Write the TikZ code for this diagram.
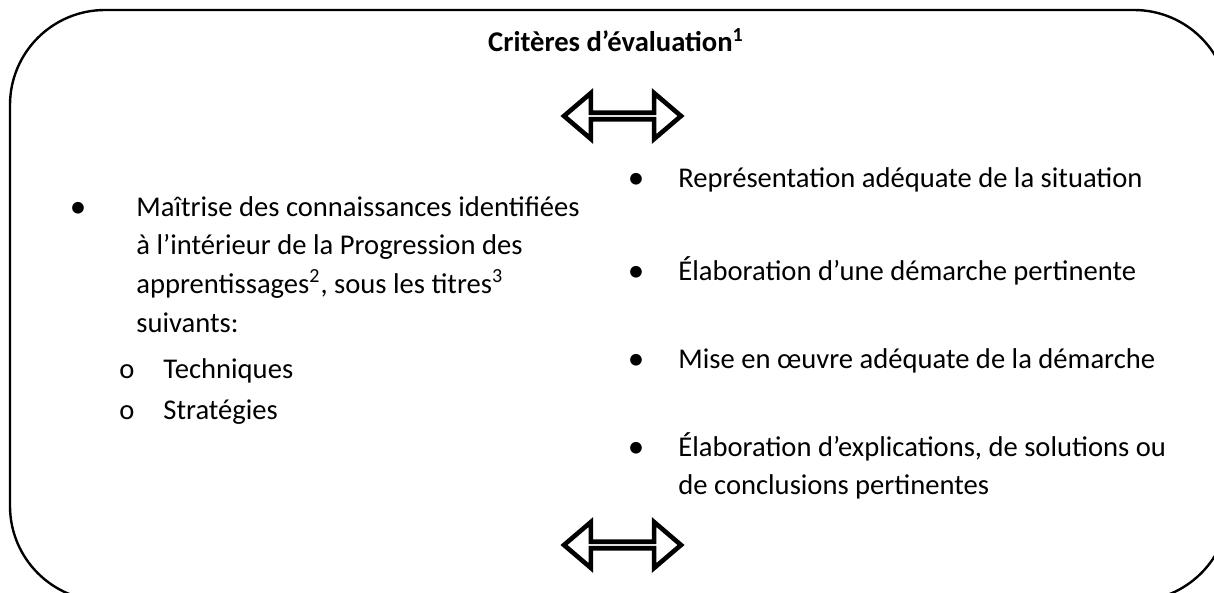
\documentclass[tikz,border=0pt]{standalone}
\usepackage{fontspec}
\setmainfont{Carlito}
\usetikzlibrary{shapes.arrows}

\begin{document}
\begin{tikzpicture}[x=0.5pt, y=-0.5pt,
    every node/.style={inner sep=0pt, font=\fontsize{14.3}{19}\selectfont},
    ligne/.style={anchor=base west},
    puce/.style={anchor=base},
    gros/.style={puce, font=\fontsize{16.5}{19}\selectfont},
    fleche/.style={draw, line width=2.3pt, double arrow, double arrow head extend=7pt,
      double arrow tip angle=81, minimum height=58.5pt, minimum width=23pt}]
    \useasboundingbox (0,0) rectangle (1214,593);
    \clip (0,0) rectangle (1214,593);
    \draw[line width=1.2pt, rounded corners=47.5pt] (10,10) rectangle (1229,601);

    \path (616,52) node[anchor=base, font=\fontsize{14.3}{19}\selectfont\bfseries] (titre) {Critères d’évaluation\textsuperscript{1}}
    (622.5,116) node[fleche] (haut) {}
    (622.5,545) node[fleche] (bas) {};

    % colonne de gauche
    \path (78,218) node[gros] (pg) {•}
    (136,217) node[ligne] (g1) {Maîtrise des connaissances identifiées}
    (136,255) node[ligne] (g2) {à l’intérieur de la Progression des}
    (136,293) node[ligne] (g3) {apprentissages\textsuperscript{2}, sous les titres\textsuperscript{3}}
    (136,332) node[ligne] (g4) {suivants:}
    (127,378) node[puce] (o1) {o}
    (163,378) node[ligne] (tech) {Techniques}
    (127,419) node[puce] (o2) {o}
    (163,419) node[ligne] (strat) {Stratégies};

    % colonne de droite
    \path (636,189) node[gros] (p1) {•}
    (678,188) node[ligne] (d1) {Représentation adéquate de la situation}
    (636,281) node[gros] (p2) {•}
    (678,280) node[ligne] (d2) {Élaboration d’une démarche pertinente}
    (636,369) node[gros] (p3) {•}
    (678,368) node[ligne] (d3) {Mise en œuvre adéquate de la démarche}
    (636,457) node[gros] (p4) {•}
    (678,456) node[ligne] (d4) {Élaboration d’explications, de solutions ou}
    (678,494) node[ligne] (d5) {de conclusions pertinentes};
\end{tikzpicture}
\end{document}
